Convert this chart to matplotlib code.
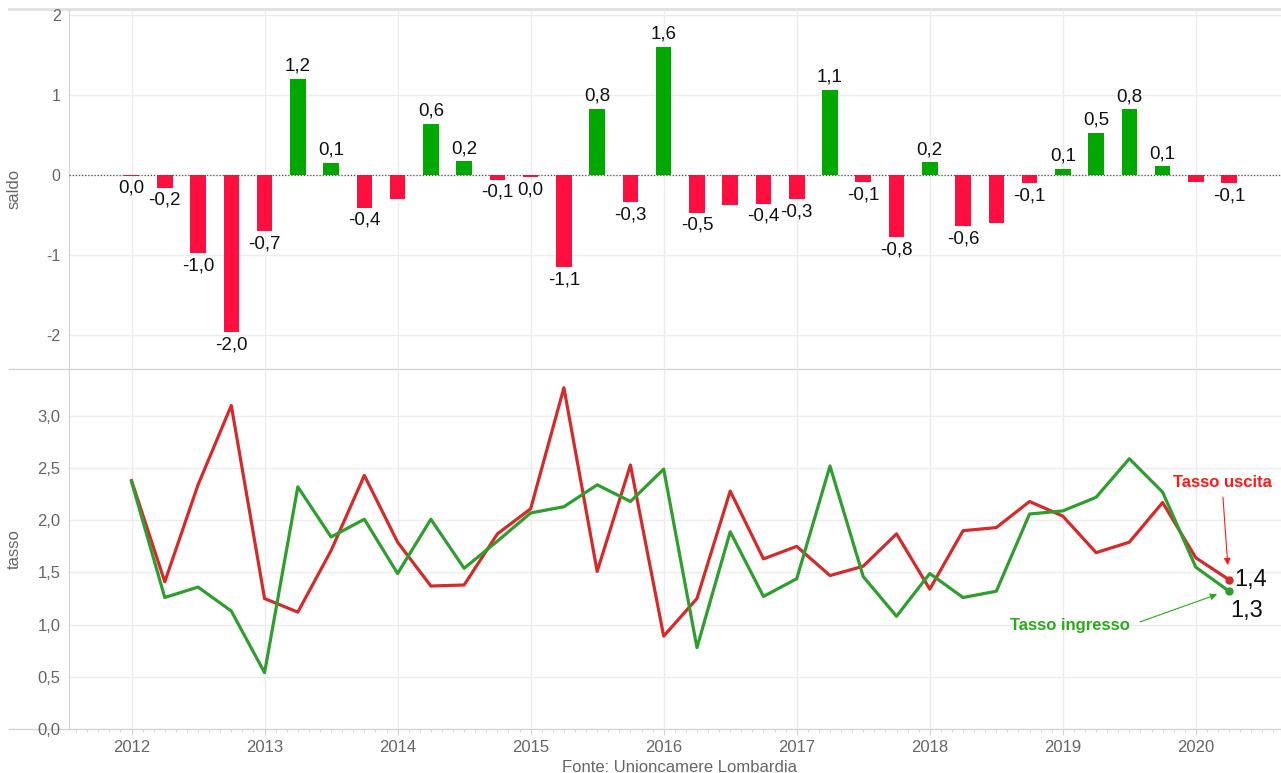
import matplotlib

matplotlib.use("Agg")
import matplotlib.pyplot as plt
from matplotlib.lines import Line2D
from matplotlib.ticker import FixedLocator, FuncFormatter
import numpy as np

plt.rcParams["font.family"] = ["Liberation Sans", "DejaVu Sans"]

# quarters from 2012 Q1 to 2020 Q2
periodi = [f"{anno}-T{q}" for anno in range(2012, 2021) for q in range(1, 5)][:34]

saldo = [
    -0.01, -0.16, -0.98, -1.96,
    -0.70, 1.20, 0.15, -0.41,
    -0.30, 0.64, 0.17, -0.06,
    -0.03, -1.15, 0.83, -0.34,
    1.60, -0.47, -0.37, -0.36,
    -0.30, 1.06, -0.09, -0.78,
    0.16, -0.64, -0.60, -0.10,
    0.08, 0.53, 0.82, 0.11,
    -0.09, -0.10,
]
# Tableau hides some labels where they would overlap
mostra_etichetta = [
    True, True, True, True,
    True, True, True, True,
    False, True, True, True,
    True, True, True, True,
    True, True, False, True,
    True, True, True, True,
    True, True, False, True,
    True, True, True, True,
    False, True,
]

tasso_uscita = [
    2.38, 1.41, 2.34, 3.10,
    1.25, 1.12, 1.71, 2.43,
    1.79, 1.37, 1.38, 1.87,
    2.11, 3.27, 1.51, 2.53,
    0.89, 1.25, 2.28, 1.63,
    1.75, 1.47, 1.56, 1.87,
    1.34, 1.90, 1.93, 2.18,
    2.04, 1.69, 1.79, 2.17,
    1.64, 1.43,
]
tasso_ingresso = [
    2.37, 1.26, 1.36, 1.13,
    0.54, 2.32, 1.84, 2.01,
    1.49, 2.01, 1.54, 1.80,
    2.07, 2.13, 2.34, 2.18,
    2.49, 0.78, 1.89, 1.27,
    1.44, 2.52, 1.46, 1.08,
    1.49, 1.26, 1.32, 2.06,
    2.09, 2.22, 2.59, 2.27,
    1.55, 1.32,
]
anni = list(range(2012, 2021))

ROSSO_BAR = "#FF0F3F"
VERDE_BAR = "#00A800"
ROSSO_LINEA = "#D62A2A"
VERDE_LINEA = "#2E9E2E"
GRIGIO_TESTO = "#666666"
GRIGIO_GRIGLIA = "#ECECEC"
GRIGIO_ASSE = "#D4D4D4"


def periodo_a_x(p):
    anno, q = p.split("-T")
    return int(anno) + (int(q) - 1) / 4


def virgola(v, dec):
    v = round(v, dec) + 0.0
    return f"{v:.{dec}f}".replace(".", ",")


x = np.array([periodo_a_x(p) for p in periodi])

W, H = 1281, 773
fig = plt.figure(figsize=(W / 100, H / 100), dpi=100)
left = 69 / W
ax1 = fig.add_axes([left, 1 - 368 / H, 1 - left, (368 - 10) / H])
ax2 = fig.add_axes([left, 1 - 729 / H, 1 - left, (729 - 370) / H])

xlim = (2011.53, 2020.64)

for ax in (ax1, ax2):
    ax.set_xlim(*xlim)
    ax.xaxis.set_major_locator(FixedLocator(anni))
    ax.grid(True, axis="both", color=GRIGIO_GRIGLIA, linewidth=1)
    ax.set_axisbelow(True)
    ax.patch.set_alpha(0)
    for s in ("top", "right", "bottom"):
        ax.spines[s].set_visible(False)
    ax.spines["left"].set_color(GRIGIO_ASSE)
    ax.tick_params(axis="y", length=0, labelsize=12, labelcolor=GRIGIO_TESTO, pad=6)

# ---- top panel: saldo
colori = [VERDE_BAR if v > 0 else ROSSO_BAR for v in saldo]
ax1.bar(x, saldo, width=0.117, color=colori, align="center", zorder=2)
ax1.axhline(0, color="#555555", linestyle=(0, (1, 1.5)), linewidth=0.9, zorder=3)
ax1.set_ylim(-2.41, 2.06)
ax1.yaxis.set_major_locator(FixedLocator([-2, -1, 0, 1, 2]))
ax1.yaxis.set_major_formatter(FuncFormatter(lambda v, p: f"{int(v)}"))
ax1.tick_params(axis="x", length=0, labelbottom=False)
ax1.tick_params(axis="y", labelsize=11.5)
ax1.set_ylabel("saldo", fontsize=12, color=GRIGIO_TESTO)
ax1.yaxis.set_label_coords(-47 / 1212, 0.5)

for xi, v, show in zip(x, saldo, mostra_etichetta):
    if not show:
        continue
    if v >= 0:
        ax1.annotate(virgola(v, 1), (xi, v), xytext=(0, 3), textcoords="offset points",
                     ha="center", va="bottom", fontsize=13.5, color="#111111")
    else:
        ax1.annotate(virgola(v, 1), (xi, v), xytext=(0, -3), textcoords="offset points",
                     ha="center", va="top", fontsize=13.5, color="#111111")

# ---- bottom panel: tassi
ax2.plot(x, tasso_uscita, color=ROSSO_LINEA, linewidth=2.3, zorder=3)
ax2.plot(x, tasso_ingresso, color=VERDE_LINEA, linewidth=2.3, zorder=3)
ax2.plot(x[-1], tasso_uscita[-1], "o", color=ROSSO_LINEA, markersize=5, zorder=4)
ax2.plot(x[-1], tasso_ingresso[-1], "o", color=VERDE_LINEA, markersize=5, zorder=4)
ax2.set_ylim(0, 3.44)
ax2.yaxis.set_major_locator(FixedLocator([0, 0.5, 1, 1.5, 2, 2.5, 3]))
ax2.yaxis.set_major_formatter(FuncFormatter(lambda v, p: virgola(v, 1)))
ax2.set_xticks(np.arange(2011 + 7 / 12, 2020.64, 1 / 12), minor=True)
ax2.tick_params(axis="x", which="major", length=4, color=GRIGIO_ASSE,
                labelsize=12, labelcolor=GRIGIO_TESTO, pad=4)
ax2.tick_params(axis="x", which="minor", length=2.5, color=GRIGIO_ASSE)
ax2.set_ylabel("tasso", fontsize=12, color=GRIGIO_TESTO)
ax2.yaxis.set_label_coords(-47 / 1212, 0.5)

ax2.annotate(virgola(tasso_uscita[-1], 1), (x[-1], tasso_uscita[-1]), xytext=(4, 0),
             textcoords="offset points", ha="left", va="center", fontsize=17, color="#111111")
ax2.annotate(virgola(tasso_ingresso[-1], 1), (x[-1], tasso_ingresso[-1]), xytext=(1, -6),
             textcoords="offset points", ha="left", va="top", fontsize=17, color="#111111")

ax2.annotate("Tasso uscita", xy=(x[-1] - 0.01, tasso_uscita[-1] + 0.14), xytext=(2020.20, 2.36),
             ha="center", va="center", fontsize=12, fontweight="bold", color="#FF1A1A",
             arrowprops=dict(arrowstyle="-|>", color="#FF1A1A", lw=0.8, relpos=(0.5, 0),
                             mutation_scale=10, shrinkA=3, shrinkB=0))
ax2.annotate("Tasso ingresso", xy=(x[-1] - 0.09, 1.29), xytext=(2019.05, 0.99),
             ha="center", va="center", fontsize=12, fontweight="bold", color="#2AAA1A",
             arrowprops=dict(arrowstyle="-|>", color="#2AAA1A", lw=0.8, relpos=(1, 0.5),
                             mutation_scale=10, shrinkA=6, shrinkB=0))

# separators and x axis line extending to the left edge (drawn beneath the axes)
fig.add_artist(Line2D([9 / W, 1], [1 - 9 / H, 1 - 9 / H], color="#E0E0E0",
                      linewidth=2.0, zorder=-1))
fig.add_artist(Line2D([9 / W, 1], [1 - 369 / H, 1 - 369 / H], color=GRIGIO_ASSE,
                      linewidth=1, zorder=-1))
fig.add_artist(Line2D([9 / W, 1], [1 - 729 / H, 1 - 729 / H], color=GRIGIO_ASSE,
                      linewidth=1, zorder=-1))

fig.text(680 / W, 1 - 767 / H, "Fonte: Unioncamere Lombardia", ha="center", va="center",
         fontsize=12, color=GRIGIO_TESTO)

fig.savefig("out.png", dpi=100)
